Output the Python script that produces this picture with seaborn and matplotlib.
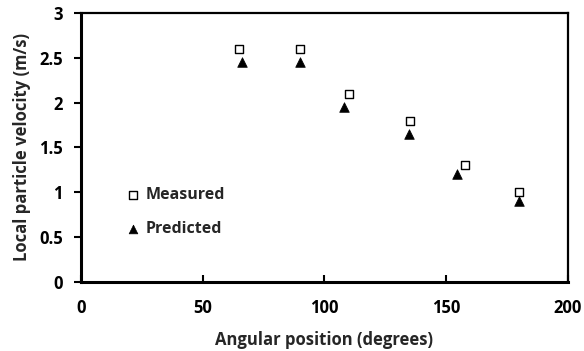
import matplotlib
matplotlib.use("Agg")
import matplotlib.pyplot as plt
import seaborn as sns
import pandas as pd

# Measured and predicted local particle velocities
measured_angle = [65, 90, 110, 135, 157.5, 180]
measured_velocity = [2.6, 2.6, 2.1, 1.8, 1.3, 1.0]
predicted_angle = [66, 90, 108, 134.5, 154.5, 180]
predicted_velocity = [2.45, 2.45, 1.95, 1.65, 1.2, 0.9]

x_ticks = [0, 50, 100, 150, 200]
y_ticks = [0, 0.5, 1, 1.5, 2, 2.5, 3]
y_tick_labels = ["0", "0.5", "1", "1.5", "2", "2.5", "3"]

sns.set_style("white")
plt.rcParams["font.family"] = ["Open Sans", "DejaVu Sans"]
plt.rcParams["font.weight"] = "bold"

fig = plt.figure(figsize=(5.84, 3.51), dpi=100)
ax = fig.add_axes([0.1387, 0.1966, 0.8339, 0.7664])

measured = pd.DataFrame({"angle": measured_angle, "velocity": measured_velocity})
predicted = pd.DataFrame({"angle": predicted_angle, "velocity": predicted_velocity})

sns.scatterplot(data=measured, x="angle", y="velocity", ax=ax, marker="s",
                s=38, facecolor="white", edgecolor="black", linewidth=1.0,
                label="Measured", zorder=3)
sns.scatterplot(data=predicted, x="angle", y="velocity", ax=ax, marker="^",
                s=48, color="black", edgecolor="black", linewidth=0.5,
                label="Predicted", zorder=3)

ax.set_xlim(0, 200)
ax.set_ylim(0, 3)
ax.set_xticks(x_ticks)
ax.set_yticks(y_ticks)
ax.set_yticklabels(y_tick_labels)

for side, lw in [("left", 2.2), ("bottom", 2.2), ("top", 1.6), ("right", 1.6)]:
    ax.spines[side].set_visible(True)
    ax.spines[side].set_color("black")
    ax.spines[side].set_linewidth(lw)

ax.tick_params(axis="x", direction="in", length=5, width=1.5, pad=12,
               labelsize=12, colors="black", bottom=True)
ax.tick_params(axis="y", direction="out", length=5, width=1.5, pad=8,
               labelsize=12, colors="black", left=True)
for lbl in ax.get_xticklabels() + ax.get_yticklabels():
    lbl.set_fontweight("bold")

ax.set_xlabel("Angular position (degrees)", fontsize=12, fontweight="bold",
              labelpad=10)
ax.set_ylabel("Local particle velocity (m/s)", fontsize=12, fontweight="bold",
              labelpad=6)

leg = ax.legend(loc="center left", bbox_to_anchor=(0.07, 0.26), frameon=False,
                handlelength=0.8, handletextpad=0.4, labelspacing=1.15,
                markerscale=0.9, borderpad=0.2,
                prop={"weight": "bold", "size": 11.5})

fig.savefig("out.png", dpi=100)
